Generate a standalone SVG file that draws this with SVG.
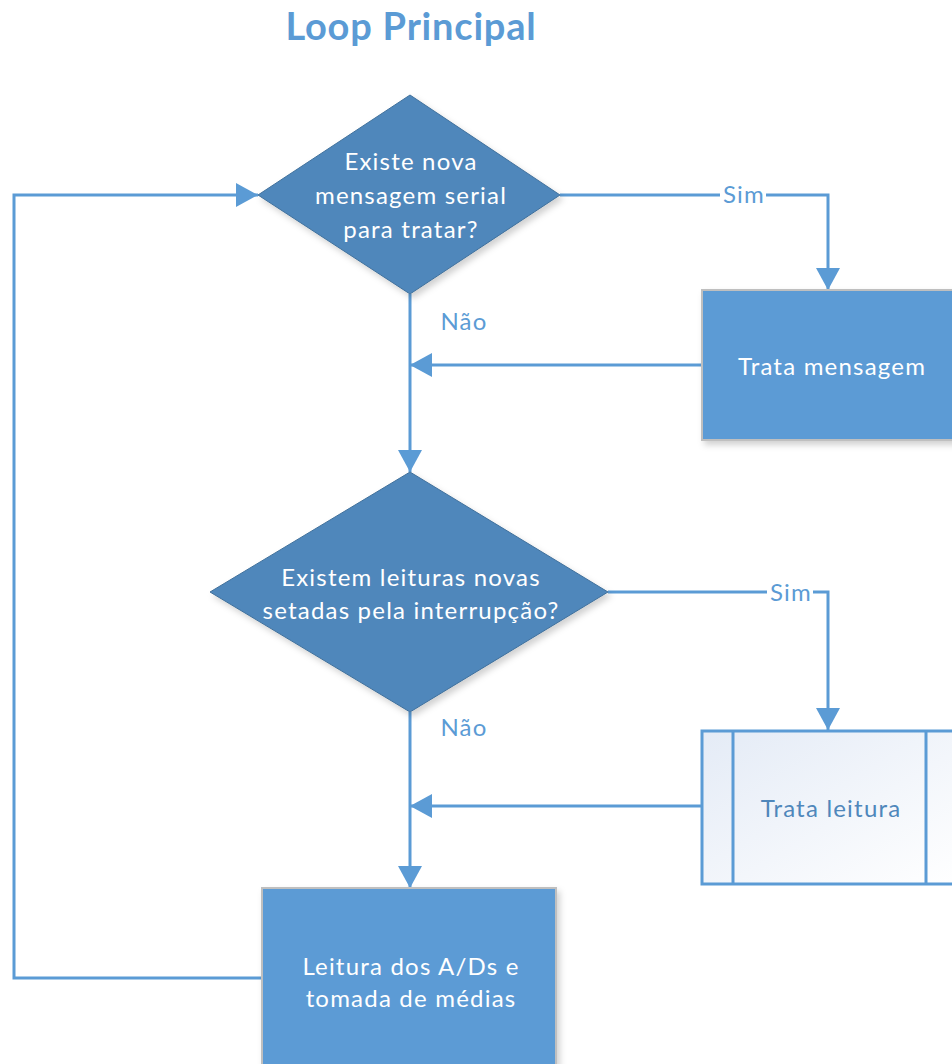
<svg xmlns="http://www.w3.org/2000/svg" width="952" height="1064" viewBox="0 0 952 1064">
<style>
.t{font-family:Lato,"Liberation Sans",sans-serif;font-size:24px;letter-spacing:1.2px;text-anchor:middle}
.w{fill:#FFFFFF}
.b{fill:#5B9BD5}
.c{fill:none;stroke:#5B9BD5;stroke-width:3}
.dia{fill:#4F87BB;stroke:#41719C;stroke-width:1}
.proc{fill:#5B9BD5;stroke:#BFBFBF;stroke-width:2}
</style>
<defs>
<marker id="a" viewBox="0 0 22 24" refX="22" refY="12" markerWidth="22" markerHeight="24" markerUnits="userSpaceOnUse" orient="auto">
<path d="M0,0 L22,12 L0,24 Z" fill="#5B9BD5"/>
</marker>
<linearGradient id="g" x1="0" y1="0" x2="1" y2="1">
<stop offset="0" stop-color="#E4EBF6"/>
<stop offset="1" stop-color="#FFFFFF"/>
</linearGradient>
<filter id="sh" x="-10%" y="-10%" width="130%" height="130%">
<feDropShadow dx="3" dy="4" stdDeviation="3" flood-color="#000" flood-opacity="0.18"/>
</filter>
</defs>
<rect width="952" height="1064" fill="#FFFFFF"/>
<text x="411" y="40" font-family="Lato,'Liberation Sans',sans-serif" font-size="38" letter-spacing="0.8" font-weight="bold" fill="#5B9BD5" text-anchor="middle">Loop Principal</text>

<g id="connectors">
<path class="c" d="M560,195 H828 V290" marker-end="url(#a)"/>
<path class="c" d="M410,294 V472" marker-end="url(#a)"/>
<path class="c" d="M702,365 H410" marker-end="url(#a)"/>
<path class="c" d="M608,592 H828 V730" marker-end="url(#a)"/>
<path class="c" d="M410,712 V888" marker-end="url(#a)"/>
<path class="c" d="M702,806 H410" marker-end="url(#a)"/>
<path class="c" d="M262,978 H14 V195 H258" marker-end="url(#a)"/>
<rect x="720" y="182" width="46" height="26" fill="#FFFFFF"/>
<text class="t b" x="744" y="203">Sim</text>
<rect x="767" y="580" width="46" height="26" fill="#FFFFFF"/>
<text class="t b" x="791" y="601">Sim</text>
<text class="t b" x="464" y="330">Não</text>
<text class="t b" x="464" y="736">Não</text>
</g>

<g id="decisao1">
<path class="dia" filter="url(#sh)" d="M410,95 L560,195 L410,294 L258,195 Z"/>
<text class="t w" x="411" y="170">Existe nova</text>
<text class="t w" x="411" y="204">mensagem serial</text>
<text class="t w" x="411" y="238">para tratar?</text>
</g>

<g id="trata_mensagem">
<rect class="proc" filter="url(#sh)" x="702" y="290" width="260" height="150"/>
<text class="t w" x="832" y="375">Trata mensagem</text>
</g>

<g id="decisao2">
<path class="dia" filter="url(#sh)" d="M410,472 L608,592 L410,712 L210,592 Z"/>
<text class="t w" x="411" y="586">Existem leituras novas</text>
<text class="t w" x="411" y="619">setadas pela interrupção?</text>
</g>

<g id="trata_leitura">
<rect x="702" y="731" width="262" height="153" fill="url(#g)" stroke="#5B9BD5" stroke-width="3"/>
<line x1="733" y1="731" x2="733" y2="884" stroke="#5B9BD5" stroke-width="3"/>
<line x1="926" y1="731" x2="926" y2="884" stroke="#5B9BD5" stroke-width="3"/>
<text class="t" fill="#4F87BB" x="831" y="817">Trata leitura</text>
</g>

<g id="leitura_ads">
<rect class="proc" filter="url(#sh)" x="262" y="888" width="294" height="190"/>
<text class="t w" x="411" y="975">Leitura dos A/Ds e</text>
<text class="t w" x="411" y="1007">tomada de médias</text>
</g>
</svg>
